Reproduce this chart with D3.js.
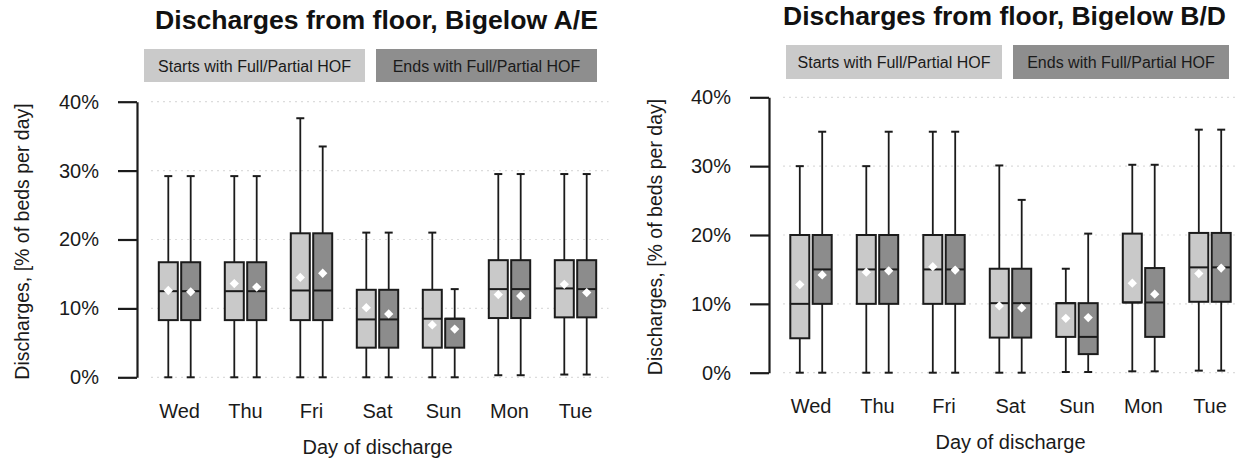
<!DOCTYPE html>
<html>
<head>
<meta charset="utf-8">
<script src="https://cdn.jsdelivr.net/npm/d3@7"></script>
<style>
  html, body { margin: 0; padding: 0; background: #fff; }
  svg { display: block; font-family: "Liberation Sans", Arial, Helvetica, sans-serif; }
</style>
</head>
<body>
<svg id="chart" width="1238" height="460"></svg>
<script>
// Days of discharge, in the order shown on the x axis
const days = ["Wed", "Thu", "Fri", "Sat", "Sun", "Mon", "Tue"];
const seriesNames = ["Starts with Full/Partial HOF", "Ends with Full/Partial HOF"];
const yTicks = [0, 10, 20, 30, 40];

// Each row: [min, q1, median, q3, max, mean] in % of beds per day
const aeStarts = [
  [0.0, 8.3, 12.5, 16.7, 29.2, 12.6],
  [0.0, 8.3, 12.5, 16.7, 29.2, 13.6],
  [0.0, 8.3, 12.6, 20.9, 37.6, 14.5],
  [0.0, 4.3, 8.4, 12.7, 21.0, 10.1],
  [0.0, 4.3, 8.5, 12.7, 21.0, 7.6],
  [0.3, 8.6, 12.8, 17.0, 29.5, 12.0],
  [0.4, 8.7, 12.9, 17.0, 29.5, 13.5]
];
const aeEnds = [
  [0.0, 8.3, 12.5, 16.7, 29.2, 12.4],
  [0.0, 8.3, 12.5, 16.7, 29.2, 13.1],
  [0.0, 8.3, 12.6, 20.9, 33.5, 15.1],
  [0.0, 4.3, 8.4, 12.7, 21.0, 9.2],
  [0.0, 4.3, 8.5, 8.5, 12.8, 7.0],
  [0.3, 8.6, 12.8, 17.0, 29.5, 11.8],
  [0.4, 8.7, 12.8, 17.0, 29.5, 12.3]
];
const bdStarts = [
  [0.0, 5.0, 10.0, 20.0, 30.0, 12.8],
  [0.0, 10.0, 15.0, 20.0, 30.0, 14.6],
  [0.0, 10.0, 15.0, 20.0, 35.0, 15.4],
  [0.0, 5.1, 10.1, 15.1, 30.1, 9.7],
  [0.1, 5.2, 10.1, 10.1, 15.1, 7.9],
  [0.2, 10.2, 10.2, 20.2, 30.2, 13.0],
  [0.3, 10.3, 15.3, 20.3, 35.3, 14.4]
];
const bdEnds = [
  [0.0, 10.0, 15.0, 20.0, 35.0, 14.2],
  [0.0, 10.0, 15.0, 20.0, 35.0, 14.8],
  [0.0, 10.0, 15.0, 20.0, 35.0, 14.9],
  [0.0, 5.1, 10.1, 15.1, 25.1, 9.4],
  [0.1, 2.7, 5.2, 10.1, 20.2, 8.0],
  [0.2, 5.2, 10.2, 15.2, 30.2, 11.4],
  [0.3, 10.3, 15.3, 20.3, 35.3, 15.2]
];

const fills = ["#c9c9c9", "#8c8c8c"];
const legendFills = ["#cacaca", "#8e8e8e"];
const ink = "#1b1b1b";

const panels = [
  {
    title: "Discharges from floor, Bigelow A/E",
    series: [aeStarts, aeEnds],
    axisX: 137, xRange: [146.5, 608.5], yRange: [377.3, 101.7],
    titleX: 376.5, titleY: 29,
    legendX: 144, legendY: 49, legendW: 221, legendH: 33, legendGap: 11,
    yTitleX: 22
  },
  {
    title: "Discharges from floor, Bigelow B/D",
    series: [bdStarts, bdEnds],
    axisX: 769, xRange: [777.75, 1243.25], yRange: [372.7, 97.3],
    titleX: 1004.5, titleY: 25,
    legendX: 786, legendY: 45, legendW: 216, legendH: 34, legendGap: 11,
    yTitleX: 655
  }
];

const svg = d3.select("#chart");

panels.forEach(p => {
  const g = svg.append("g");

  const x = d3.scaleBand().domain(days).range(p.xRange).padding(0);
  const y = d3.scaleLinear().domain([0, 40]).range(p.yRange);
  const half = 20.7;
  const x1 = d3.scaleBand().domain([0, 1]).range([-half, half]).paddingInner(0.152);
  const bw = x1.bandwidth();
  const dayCenter = d => x(d) + x.bandwidth() / 2;

  // faint dotted grid
  g.append("g").selectAll("line").data(yTicks).join("line")
    .attr("x1", p.axisX + 14).attr("x2", p.xRange[1])
    .attr("y1", d => y(d)).attr("y2", d => y(d))
    .attr("stroke", "#dcdcdc").attr("stroke-width", 1.2)
    .attr("stroke-dasharray", "2,4");

  // title
  g.append("text")
    .attr("x", p.titleX).attr("y", p.titleY)
    .attr("text-anchor", "middle")
    .attr("font-size", 25).attr("font-weight", "bold")
    .attr("fill", "#111")
    .attr("textLength", 443).attr("lengthAdjust", "spacingAndGlyphs")
    .text(p.title);

  // legend
  const lg = g.append("g");
  seriesNames.forEach((name, i) => {
    const lx = p.legendX + i * (p.legendW + p.legendGap);
    lg.append("rect")
      .attr("x", lx).attr("y", p.legendY)
      .attr("width", p.legendW).attr("height", p.legendH)
      .attr("fill", legendFills[i]);
    lg.append("text")
      .attr("x", lx + p.legendW / 2).attr("y", p.legendY + p.legendH / 2 + 6)
      .attr("text-anchor", "middle").attr("font-size", 16)
      .attr("fill", "#1a1a1a")
      .text(name);
  });

  // y axis
  const yAxis = d3.axisLeft(y).tickValues(yTicks)
    .tickSize(19).tickSizeOuter(0).tickPadding(19)
    .tickFormat(d => d + "%");
  const ya = g.append("g").attr("transform", `translate(${p.axisX},0)`).call(yAxis);
  ya.selectAll("path, line").attr("stroke", ink).attr("stroke-width", 2.2);
  ya.selectAll("text").attr("font-size", 20).attr("fill", "#1a1a1a")
    .attr("font-family", "Liberation Sans, Arial, sans-serif");

  // y axis title
  g.append("text")
    .attr("transform", `translate(${p.yTitleX + 7},${(p.yRange[0] + p.yRange[1]) / 2 + 2}) rotate(-90)`)
    .attr("text-anchor", "middle").attr("font-size", 19.5).attr("fill", "#1a1a1a")
    .text("Discharges, [% of beds per day]");

  // x axis: day labels only
  const xAxis = d3.axisBottom(x).tickSize(0).tickPadding(0);
  const xa = g.append("g").attr("transform", `translate(0,${y(0) + 26.5})`).call(xAxis);
  xa.select(".domain").remove();
  xa.selectAll("text").attr("font-size", 20).attr("fill", "#1a1a1a")
    .attr("font-family", "Liberation Sans, Arial, sans-serif");

  g.append("text")
    .attr("x", (p.xRange[0] + p.xRange[1]) / 2).attr("y", y(0) + 76.5)
    .attr("text-anchor", "middle").attr("font-size", 20).attr("fill", "#1a1a1a")
    .text("Day of discharge");

  // box plots
  const boxes = [];
  days.forEach((d, i) => {
    p.series.forEach((s, k) => {
      const [mn, q1, md, q3, mx, mean] = s[i];
      boxes.push({ day: d, k, mn, q1, md, q3, mx, mean });
    });
  });

  const bg = g.append("g").selectAll("g").data(boxes).join("g")
    .attr("transform", b => `translate(${dayCenter(b.day) + x1(b.k) + bw / 2},0)`);

  bg.append("line").attr("x1", 0).attr("x2", 0)
    .attr("y1", b => y(b.mx)).attr("y2", b => y(b.mn))
    .attr("stroke", ink).attr("stroke-width", 1.8);
  bg.append("line").attr("x1", -4).attr("x2", 4)
    .attr("y1", b => y(b.mx)).attr("y2", b => y(b.mx))
    .attr("stroke", ink).attr("stroke-width", 2);
  bg.append("line").attr("x1", -4).attr("x2", 4)
    .attr("y1", b => y(b.mn)).attr("y2", b => y(b.mn))
    .attr("stroke", ink).attr("stroke-width", 2);
  bg.append("rect")
    .attr("x", -bw / 2).attr("width", bw)
    .attr("y", b => y(b.q3)).attr("height", b => y(b.q1) - y(b.q3))
    .attr("fill", b => fills[b.k]).attr("stroke", ink).attr("stroke-width", 2);
  bg.append("line").attr("x1", -bw / 2).attr("x2", bw / 2)
    .attr("y1", b => y(b.md)).attr("y2", b => y(b.md))
    .attr("stroke", ink).attr("stroke-width", 2);
  bg.append("path")
    .attr("d", d3.symbol(d3.symbolDiamond2, 55))
    .attr("transform", b => `translate(0,${y(b.mean)})`)
    .attr("fill", "#fff");
});
</script>
</body>
</html>
